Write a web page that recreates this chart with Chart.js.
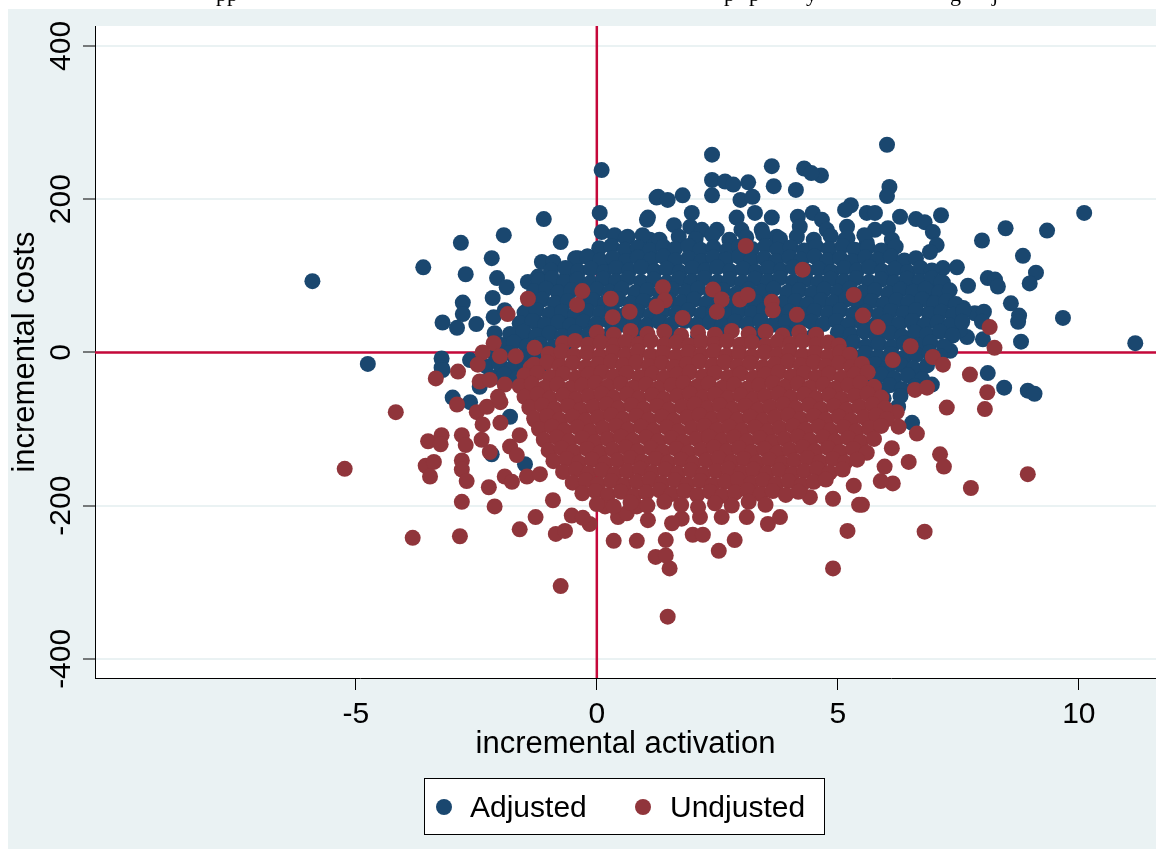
<!DOCTYPE html>
<html>
<head>
<meta charset="utf-8">
<title>incremental costs vs incremental activation</title>
<script src="https://cdn.jsdelivr.net/npm/chart.js@4.4.1/dist/chart.umd.min.js"></script>
<style>
html, body { margin: 0; padding: 0; background: #fff; }
canvas { display: block; }
</style>
</head>
<body>
<canvas id="scatterChart" width="1156" height="849"></canvas>
<script>
// Axis ticks and series names
const xTicks = [-5, 0, 5, 10];
const yTicks = [-400, -200, 0, 200, 400];
const seriesNames = ["Adjusted", "Undjusted"];

// Adjusted: scattered points around the cloud, [activation, costs]
const adjustedOuter = [
    [-5.9,93],[-4.75,-15],[-3.6,111],[-3.2,39],[-3.22,-8],[-3.22,-20],[-2.82,143],[-1.93,153],[-1.1,174],[-0.75,144],
    [-2.72,102],[-2.18,123],[-2.07,97],[-1.87,85],[-2.16,71],[-2.78,65],[-2.78,50],[-2.9,32],[-2.5,37],[-2.14,46],
    [-2.12,25],[-1.58,27],[-2.63,-10],[-1.43,92],[-1.14,118],[-0.9,118],[-1.22,99],[-0.44,123],[-0.62,99],[-0.87,86],
    [-1.33,55],[-1.24,38],[-1.12,25],[-1.54,14],[-0.7,73],[-0.73,46],[-1.91,55],[-0.39,123],[-0.19,125],[0.27,114],
    [0.48,117],[0.06,182],[0.1,157],[0.37,153],[0.64,151],[1.06,176],[1.24,202],[0.85,130],[1.06,147],[0.1,238],
    [2.39,258],[2.39,225],[2.66,223],[2.83,219],[3.14,222],[2.39,205],[2.98,199],[3.23,203],[3.63,243],[3.67,217],
    [4.13,212],[4.3,240],[4.65,231],[4.45,234],[5.27,192],[5.15,186],[5.6,182],[1.27,203],[1.78,205],[1.47,199],
    [1.6,166],[1.97,182],[1.94,164],[2.18,160],[2.49,160],[2.9,176],[3.0,160],[3.28,182],[3.42,160],[3.63,176],
    [4.17,177],[4.48,182],[4.67,173],[4.77,160],[5.19,164],[5.15,147],[4.21,164],[3.73,151],[1.04,173],[1.1,147],[0.89,125],
    [6.02,271],[6.07,216],[6.02,204],[5.77,182],[6.29,177],[6.62,174],[6.8,170],[7.14,179],[6.97,157],[7.05,140],
    [6.91,131],[5.77,160],[6.04,162],[6.12,147],[6.04,130],[5.6,143],[8.48,162],[9.34,159],[10.11,182],[7.99,146],
    [8.84,126],[9.11,104],[8.98,90],[7.18,110],[7.47,111],[7.7,87],[8.11,97],[8.26,95],[8.32,86],[8.59,64],
    [8.76,48],[8.74,40],[9.67,45],[8.8,14],[11.17,12],[7.6,58],[7.84,51],[8.03,53],[7.99,40],[8.01,17],
    [7.68,20],[7.33,2],[6.08,101],[6.45,102],[6.6,88],[7.18,91],[7.26,75],[6.97,78],[6.89,51],[6.56,38],
    [7.39,40],[7.53,29],[8.11,-27],[8.45,-46],[8.94,-50],[9.08,-54],[6.54,-92],[6.95,-42],[6.7,-25],[6.25,-71],
    [-2.99,-59],[-2.63,-65],[-1.8,-84],[-1.49,-146],[-2.43,-45],[-2.05,-32],[-1.49,-40],[-3.2,-23],[-2.18,-133]
];

// Adjusted: dense cloud, read row by row
const adjustedCore = [
    [0.6,149],[0.95,153],[1.3,147],[1.7,151],[2.05,148],[2.4,153],[2.75,147],[3.1,150],[3.45,154],[3.8,148],[4.15,151],[4.5,147],[4.85,152],[5.2,149],[5.55,153],
    [0.05,136],[0.3,139],[0.58,134],[0.85,137],[1.1,133],[1.38,138],[1.62,135],[1.9,139],[2.15,134],[2.42,137],[2.7,133],[2.95,138],[3.22,135],[3.5,139],[3.75,134],[4.02,137],[4.3,133],[4.55,138],[4.82,135],[5.1,139],[5.35,134],[5.62,137],[5.9,133],[6.2,138],
    [-0.45,122],[-0.2,125],[0.07,120],[0.33,123],[0.6,119],[0.85,124],[1.12,121],[1.38,125],[1.63,120],[1.9,123],[2.17,119],[2.42,124],[2.68,121],[2.95,125],[3.2,120],[3.47,123],[3.72,119],[4.0,124],[4.25,121],[4.52,125],[4.78,120],[5.05,123],[5.3,119],[5.57,124],[5.83,121],[6.1,125],[6.38,120],[6.62,123],
    [-0.95,107],[-0.65,110],[-0.38,106],[-0.12,109],[0.15,105],[0.4,110],[0.67,107],[0.92,111],[1.2,106],[1.45,109],[1.72,105],[1.98,110],[2.25,107],[2.5,111],[2.77,106],[3.03,109],[3.3,105],[3.55,110],[3.82,107],[4.08,111],[4.35,106],[4.6,109],[4.87,105],[5.13,110],[5.4,107],[5.65,111],[5.92,106],[6.18,109],[6.45,105],[6.72,110],[6.95,107],
    [-1.2,94],[-0.93,97],[-0.67,92],[-0.4,95],[-0.13,91],[0.13,96],[0.4,93],[0.65,97],[0.92,92],[1.18,95],[1.45,91],[1.7,96],[1.97,93],[2.23,97],[2.5,92],[2.75,95],[3.02,91],[3.28,96],[3.55,93],[3.8,97],[4.07,92],[4.33,95],[4.6,91],[4.85,96],[5.12,93],[5.38,97],[5.65,92],[5.9,95],[6.17,91],[6.43,96],[6.7,93],[6.95,97],[7.15,92],
    [-1.3,80],[-1.05,83],[-0.8,78],[-0.53,81],[-0.27,77],[0.0,82],[0.27,79],[0.52,83],[0.8,78],[1.05,81],[1.32,77],[1.57,82],[1.85,79],[2.1,83],[2.37,78],[2.62,81],[2.9,77],[3.15,82],[3.42,79],[3.67,83],[3.95,78],[4.2,81],[4.47,77],[4.72,82],[5.0,79],[5.25,83],[5.52,78],[5.77,81],[6.05,77],[6.3,82],[6.57,79],[6.82,83],[7.1,78],[7.32,81],
    [-1.4,66],[-1.13,69],[-0.87,64],[-0.6,67],[-0.35,63],[-0.08,68],[0.18,65],[0.45,69],[0.7,64],[0.97,67],[1.22,63],[1.5,68],[1.75,65],[2.02,69],[2.27,64],[2.55,67],[2.8,63],[3.07,68],[3.32,65],[3.6,69],[3.85,64],[4.12,67],[4.37,63],[4.65,68],[4.9,65],[5.17,69],[5.42,64],[5.7,67],[5.95,63],[6.22,68],[6.47,65],[6.75,69],[7.0,64],[7.25,67],[7.45,63],
    [-1.5,52],[-1.25,55],[-0.98,50],[-0.72,53],[-0.45,49],[-0.2,54],[0.07,51],[0.32,55],[0.6,50],[0.85,53],[1.12,49],[1.37,54],[1.65,51],[1.9,55],[2.17,50],[2.42,53],[2.7,49],[2.95,54],[3.22,51],[3.47,55],[3.75,50],[4.0,53],[4.27,49],[4.52,54],[4.8,51],[5.05,55],[5.32,50],[5.57,53],[5.85,49],[6.1,54],[6.37,51],[6.62,55],[6.9,50],[7.15,53],[7.4,49],[7.6,54],
    [-1.6,38],[-1.33,41],[-1.07,36],[-0.8,39],[-0.55,35],[-0.28,40],[-0.02,37],[0.25,41],[0.5,36],[0.77,39],[1.02,35],[1.3,40],[1.55,37],[1.82,41],[2.07,36],[2.35,39],[2.6,35],[2.87,40],[3.12,37],[3.4,41],[3.65,36],[3.92,39],[4.17,35],[4.45,40],[4.7,37],[4.97,41],[5.22,36],[5.5,39],[5.75,35],[6.02,40],[6.27,37],[6.55,41],[6.8,36],[7.07,39],[7.32,35],[7.58,40],
    [-1.8,24],[-1.52,27],[-1.25,22],[-0.98,25],[-0.72,21],[-0.45,26],[-0.18,23],[0.3,26],[0.9,22],[1.5,25],[2.1,21],[2.7,26],[3.3,23],[3.9,25],[4.5,22],[5.0,26],[5.27,23],[5.55,27],[5.8,22],[6.08,25],[6.33,21],[6.6,26],[6.85,23],[7.12,27],[7.38,22],
    [-2.0,10],[-1.72,13],[-1.45,8],[-1.18,11],[-0.9,7],[-0.62,12],[5.05,10],[5.32,13],[5.58,8],[5.85,11],[6.12,7],[6.38,12],[6.65,9],[6.92,13],[7.2,8],
    [-2.1,-4],[-1.82,-1],[-1.55,-6],[-1.27,-2],[-0.98,-7],[5.3,-4],[5.57,-1],[5.83,-6],[6.1,-2],[6.37,-7],[6.63,-3],[6.9,0],[7.12,-5],
    [-2.3,-18],[-2.02,-15],[-1.75,-20],[-1.48,-16],[-1.2,-21],[5.5,-18],[5.77,-15],[6.03,-20],[6.3,-16],[6.57,-21],[6.85,-17],
    [-2.2,-32],[-1.92,-29],[-1.65,-34],[5.62,-32],[5.9,-29],[6.17,-34],[6.45,-30],[6.75,-35],
    [5.8,-46],[6.07,-43],[6.33,-48],[6.6,-44],[5.95,-60],[6.3,-57]
];

// Undjusted: scattered points around the cloud
const undjustedOuter = [
    [-4.17,-78],[-5.23,-152],[-3.82,-242],[-2.84,-240],[-2.8,-195],[-2.12,-201],[-1.6,-231],[-1.27,-215],[-0.85,-237],[-0.66,-233],
    [-0.75,-305],[-0.91,-193],[-0.52,-213],[-3.5,-116],[-3.22,-108],[-3.24,-120],[-3.55,-148],[-3.38,-143],[-3.46,-162],[-2.8,-108],
    [-2.72,-121],[-2.8,-141],[-2.8,-153],[-2.7,-168],[-3.34,-34],[-2.88,-25],[-2.9,-68],[-2.49,-78],[-2.37,-94],[-2.28,-71],
    [-2.0,-65],[-2.0,-92],[-2.39,-114],[-2.22,-130],[-1.8,-123],[-1.6,-108],[-1.66,-134],[-2.24,-176],[-1.91,-162],[-1.76,-169],
    [-1.45,-162],[-1.18,-159],[-2.43,-38],[-2.22,-36],[-1.91,-42],[-2.05,-58],[-1.33,-55],[-1.12,-49],[-1.29,-88],[-0.97,-92],
    [-1.43,70],[-1.85,50],[-1.29,6],[-2.14,12],[-2.37,0],[-2.01,-5],[-1.68,-5],[-2.47,-16],[-1.37,-20],[-0.81,-6],
    [-0.41,62],[-0.3,80],[3.09,139],[4.27,108],[5.33,75],[5.52,48],[0.29,70],[1.37,85],[2.41,82],[1.41,68],
    [2.59,69],[1.24,60],[2.97,69],[3.13,75],[3.63,66],[3.65,55],[0.68,53],[0.33,46],[2.49,53],[1.78,45],[4.15,49],
    [5.83,33],[6.51,8],[6.97,-6],[7.18,-16],[6.14,-10],[7.74,-29],[8.15,33],[8.25,6],[8.1,-52],[8.05,-74],
    [7.26,-72],[6.64,-106],[7.12,-133],[7.2,-149],[6.47,-143],[8.94,-159],[7.76,-177],[6.8,-234],[6.14,-171],[5.89,-168],
    [5.5,-199],[6.6,-49],[6.85,-46],[6.22,-78],[6.26,-97],[6.12,-125],[5.97,-149],
    [1.47,-345],[4.9,-282],[1.51,-282],[1.22,-267],[1.43,-265],[1.43,-245],[0.83,-246],[2.53,-259],[2.86,-245],[1.99,-238],
    [2.2,-238],[5.2,-233],[5.44,-199],[4.9,-191],[4.42,-189],[5.33,-174],[3.55,-224],[3.8,-215],[3.11,-215],[2.59,-215],
    [2.14,-215],[1.76,-217],[1.56,-223],[1.06,-219],[0.44,-215],[0.62,-210],[-0.15,-224],[-0.29,-216],[0.17,-201],[0.83,-201],[0.35,-246]
];

// Undjusted: dense cloud, read row by row
const undjustedCore = [
    [0.0,26],[0.35,23],[0.7,28],[1.05,24],[1.4,27],[1.75,22],[2.1,26],[2.45,23],[2.8,28],[3.15,24],[3.5,27],[3.85,22],[4.2,26],[4.55,23],
    [-0.7,12],[-0.45,15],[-0.18,10],[0.08,13],[0.35,9],[0.6,14],[0.87,11],[1.12,15],[1.4,10],[1.65,13],[1.92,9],[2.17,14],[2.45,11],[2.7,15],[2.97,10],[3.22,13],[3.5,9],[3.75,14],[4.02,11],[4.27,15],[4.55,10],[4.8,13],[5.02,9],
    [-1.0,-2],[-0.73,1],[-0.47,-4],[-0.2,-1],[0.07,-5],[0.33,0],[0.6,-3],[0.85,1],[1.12,-4],[1.38,-1],[1.65,-5],[1.9,0],[2.17,-3],[2.43,1],[2.7,-4],[2.95,-1],[3.22,-5],[3.48,0],[3.75,-3],[4.0,1],[4.27,-4],[4.53,-1],[4.8,-5],[5.05,0],[5.25,-3],
    [-1.3,-16],[-1.03,-13],[-0.77,-18],[-0.5,-14],[-0.23,-19],[0.03,-15],[0.3,-12],[0.55,-17],[0.82,-13],[1.08,-18],[1.35,-14],[1.6,-19],[1.87,-15],[2.13,-12],[2.4,-17],[2.65,-13],[2.92,-18],[3.18,-14],[3.45,-19],[3.7,-15],[3.97,-12],[4.23,-17],[4.5,-13],[4.75,-18],[5.02,-14],[5.28,-19],[5.5,-15],
    [-1.5,-30],[-1.23,-27],[-0.97,-32],[-0.7,-28],[-0.43,-33],[-0.17,-29],[0.1,-26],[0.35,-31],[0.62,-27],[0.88,-32],[1.15,-28],[1.4,-33],[1.67,-29],[1.93,-26],[2.2,-31],[2.45,-27],[2.72,-32],[2.98,-28],[3.25,-33],[3.5,-29],[3.77,-26],[4.03,-31],[4.3,-27],[4.55,-32],[4.82,-28],[5.08,-33],[5.35,-29],[5.62,-26],
    [-1.6,-44],[-1.35,-41],[-1.08,-46],[-0.82,-42],[-0.55,-47],[-0.3,-43],[-0.03,-40],[0.22,-45],[0.5,-41],[0.75,-46],[1.02,-42],[1.27,-47],[1.55,-43],[1.8,-40],[2.07,-45],[2.32,-41],[2.6,-46],[2.85,-42],[3.12,-47],[3.37,-43],[3.65,-40],[3.9,-45],[4.17,-41],[4.42,-46],[4.7,-42],[4.95,-47],[5.22,-43],[5.47,-40],[5.75,-45],
    [-1.5,-58],[-1.23,-55],[-0.97,-60],[-0.7,-56],[-0.43,-61],[-0.17,-57],[0.1,-54],[0.35,-59],[0.62,-55],[0.88,-60],[1.15,-56],[1.4,-61],[1.67,-57],[1.93,-54],[2.2,-59],[2.45,-55],[2.72,-60],[2.98,-56],[3.25,-61],[3.5,-57],[3.77,-54],[4.03,-59],[4.3,-55],[4.55,-60],[4.82,-56],[5.08,-61],[5.35,-57],[5.62,-54],[5.9,-59],
    [-1.4,-72],[-1.13,-69],[-0.87,-74],[-0.6,-70],[-0.33,-75],[-0.07,-71],[0.2,-68],[0.45,-73],[0.72,-69],[0.98,-74],[1.25,-70],[1.5,-75],[1.77,-71],[2.03,-68],[2.3,-73],[2.55,-69],[2.82,-74],[3.08,-70],[3.35,-75],[3.6,-71],[3.87,-68],[4.13,-73],[4.4,-69],[4.65,-74],[4.92,-70],[5.18,-75],[5.45,-71],[5.72,-68],[5.98,-73],
    [-1.3,-86],[-1.03,-83],[-0.77,-88],[-0.5,-84],[-0.23,-89],[0.03,-85],[0.3,-82],[0.55,-87],[0.82,-83],[1.08,-88],[1.35,-84],[1.6,-89],[1.87,-85],[2.13,-82],[2.4,-87],[2.65,-83],[2.92,-88],[3.18,-84],[3.45,-89],[3.7,-85],[3.97,-82],[4.23,-87],[4.5,-83],[4.75,-88],[5.02,-84],[5.28,-89],[5.55,-85],[5.8,-82],[6.02,-87],
    [-1.2,-100],[-0.93,-97],[-0.67,-102],[-0.4,-98],[-0.13,-103],[0.13,-99],[0.4,-96],[0.65,-101],[0.92,-97],[1.18,-102],[1.45,-98],[1.7,-103],[1.97,-99],[2.23,-96],[2.5,-101],[2.75,-97],[3.02,-102],[3.28,-98],[3.55,-103],[3.8,-99],[4.07,-96],[4.33,-101],[4.6,-97],[4.85,-102],[5.12,-98],[5.38,-103],[5.65,-99],[5.9,-96],
    [-1.1,-114],[-0.83,-111],[-0.57,-116],[-0.3,-112],[-0.03,-117],[0.23,-113],[0.5,-110],[0.75,-115],[1.02,-111],[1.28,-116],[1.55,-112],[1.8,-117],[2.07,-113],[2.33,-110],[2.6,-115],[2.85,-111],[3.12,-116],[3.38,-112],[3.65,-117],[3.9,-113],[4.17,-110],[4.43,-115],[4.7,-111],[4.95,-116],[5.22,-112],[5.48,-117],[5.75,-113],
    [-1.0,-128],[-0.73,-125],[-0.47,-130],[-0.2,-126],[0.07,-131],[0.33,-127],[0.6,-124],[0.85,-129],[1.12,-125],[1.38,-130],[1.65,-126],[1.9,-131],[2.17,-127],[2.43,-124],[2.7,-129],[2.95,-125],[3.22,-130],[3.48,-126],[3.75,-131],[4.0,-127],[4.27,-124],[4.53,-129],[4.8,-125],[5.05,-130],[5.32,-126],[5.6,-131],
    [-0.9,-142],[-0.63,-139],[-0.37,-144],[-0.1,-140],[0.17,-145],[0.43,-141],[0.7,-138],[0.95,-143],[1.22,-139],[1.48,-144],[1.75,-140],[2.0,-145],[2.27,-141],[2.53,-138],[2.8,-143],[3.05,-139],[3.32,-144],[3.58,-140],[3.85,-145],[4.1,-141],[4.37,-138],[4.63,-143],[4.9,-139],[5.15,-144],[5.4,-140],
    [-0.7,-156],[-0.43,-153],[-0.17,-158],[0.1,-154],[0.37,-159],[0.63,-155],[0.9,-152],[1.15,-157],[1.42,-153],[1.68,-158],[1.95,-154],[2.2,-159],[2.47,-155],[2.73,-152],[3.0,-157],[3.25,-153],[3.52,-158],[3.78,-154],[4.05,-159],[4.3,-155],[4.57,-152],[4.83,-157],[5.1,-153],
    [-0.5,-170],[-0.23,-167],[0.03,-172],[0.3,-168],[0.57,-173],[0.83,-169],[1.1,-166],[1.35,-171],[1.62,-167],[1.88,-172],[2.15,-168],[2.4,-173],[2.67,-169],[2.93,-166],[3.2,-171],[3.45,-167],[3.72,-172],[3.98,-168],[4.25,-173],[4.5,-169],[4.75,-166],
    [-0.3,-184],[-0.03,-181],[0.23,-186],[0.5,-182],[0.77,-187],[1.03,-183],[1.3,-180],[1.55,-185],[1.82,-181],[2.08,-186],[2.35,-182],[2.6,-187],[2.87,-183],[3.13,-180],[3.4,-185],[3.65,-181],[3.92,-186],[4.18,-182],
    [0.0,-198],[0.35,-201],[0.7,-196],[1.05,-200],[1.4,-195],[1.75,-199],[2.1,-202],[2.45,-197],[2.8,-200],[3.15,-195],[3.5,-199]
];

// bits of the caption above the figure, cut off by the page edge
const captionBits = [["pp", 216], ["p", 724], ["p", 749], ["y", 806], ["g", 950], ["j", 992]];

const BG = "#EAF2F3";
const BLUE = "#1A476F";
const RED = "#90353B";
const LINE = "#C5083A";
const FONT = '"Liberation Sans", Arial, sans-serif';

Chart.defaults.font.family = FONT;
Chart.defaults.color = "#000";

const toPoints = (arr) => arr.map(([x, y]) => ({ x, y }));

const pagePlugin = {
    id: "page",
    beforeDraw(chart) {
        const { ctx, chartArea: a } = chart;
        ctx.save();
        ctx.fillStyle = "#fff";
        ctx.fillRect(0, 0, chart.width, chart.height);
        ctx.fillStyle = "#000";
        ctx.font = '22px "Liberation Serif", "Times New Roman", serif';
        ctx.textBaseline = "alphabetic";
        captionBits.forEach(([t, x]) => ctx.fillText(t, x, 1));
        ctx.fillStyle = BG;
        ctx.fillRect(8, 9, chart.width - 8, chart.height - 9);
        ctx.fillStyle = "#fff";
        ctx.fillRect(a.left, a.top, a.right - a.left, a.bottom - a.top);
        ctx.restore();
    },
    beforeDatasetsDraw(chart) {
        // reference lines at x = 0 and y = 0
        const { ctx, chartArea: a, scales: { x, y } } = chart;
        const x0 = x.getPixelForValue(0);
        const y0 = y.getPixelForValue(0);
        ctx.save();
        ctx.strokeStyle = LINE;
        ctx.lineWidth = 2.5;
        ctx.beginPath();
        ctx.moveTo(x0, a.top);
        ctx.lineTo(x0, a.bottom);
        ctx.moveTo(a.left, y0);
        ctx.lineTo(a.right, y0);
        ctx.stroke();
        ctx.restore();
    },
    afterDraw(chart) {
        const { ctx, scales: { y } } = chart;
        ctx.save();
        // y tick labels, turned like the axis title
        ctx.fillStyle = "#000";
        ctx.font = "30px " + FONT;
        ctx.textAlign = "center";
        ctx.textBaseline = "alphabetic";
        yTicks.forEach((v) => {
            ctx.save();
            ctx.translate(70, y.getPixelForValue(v));
            ctx.rotate(-Math.PI / 2);
            ctx.fillText(String(v), 0, 0);
            ctx.restore();
        });
        // legend box
        ctx.fillStyle = "#fff";
        ctx.fillRect(424.5, 778.5, 400, 56);
        ctx.strokeStyle = "#000";
        ctx.lineWidth = 1;
        ctx.strokeRect(424.5, 778.5, 400, 56);
        const items = [[BLUE, 444, 470], [RED, 643, 670]];
        items.forEach(([c, dx, tx], i) => {
            ctx.fillStyle = c;
            ctx.beginPath();
            ctx.arc(dx, 807, 8, 0, Math.PI * 2);
            ctx.fill();
            ctx.fillStyle = "#000";
            ctx.textAlign = "left";
            ctx.fillText(seriesNames[i], tx, 817);
        });
        ctx.restore();
    }
};

new Chart(document.getElementById("scatterChart"), {
    type: "scatter",
    data: {
        datasets: [
            {
                label: seriesNames[0],
                data: toPoints(adjustedOuter.concat(adjustedCore)),
                backgroundColor: BLUE,
                borderWidth: 0,
                pointRadius: 8,
                pointHoverRadius: 8,
                order: 2
            },
            {
                label: seriesNames[1],
                data: toPoints(undjustedOuter.concat(undjustedCore)),
                backgroundColor: RED,
                borderWidth: 0,
                pointRadius: 8,
                pointHoverRadius: 8,
                order: 1
            }
        ]
    },
    options: {
        responsive: false,
        animation: false,
        devicePixelRatio: 1,
        layout: { autoPadding: false, padding: { top: 26, left: 0, right: 0, bottom: 81 } },
        plugins: {
            legend: { display: false },
            tooltip: { enabled: false }
        },
        scales: {
            x: {
                type: "linear",
                min: -10.41,
                max: 11.6,
                afterBuildTicks: (s) => { s.ticks = xTicks.map((v) => ({ value: v })); },
                afterFit: (s) => { s.height = 90; s.paddingLeft = 0; s.paddingRight = 0; },
                grid: { drawOnChartArea: false, drawTicks: true, tickLength: 12, tickColor: "#000", tickWidth: 1 },
                border: { display: true, color: "#000", width: 1 },
                ticks: { color: "#000", font: { size: 30 }, padding: 7, maxRotation: 0, minRotation: 0 },
                title: {
                    display: true,
                    text: "incremental activation",
                    color: "#000",
                    font: { size: 31 },
                    padding: { top: 0, bottom: 5 }
                }
            },
            y: {
                type: "linear",
                min: -425,
                max: 426,
                afterBuildTicks: (s) => { s.ticks = yTicks.map((v) => ({ value: v })); },
                afterFit: (s) => { s.width = 95; s.paddingTop = 0; s.paddingBottom = 0; },
                grid: { color: BG, lineWidth: 2, drawTicks: true, tickLength: 12, tickColor: "#000", tickWidth: 1 },
                border: { display: true, color: "#000", width: 1 },
                ticks: { color: "rgba(0,0,0,0)", font: { size: 30 } },
                title: {
                    display: true,
                    text: "incremental costs",
                    color: "#000",
                    font: { size: 31 },
                    padding: { top: 7, bottom: 0 }
                }
            }
        }
    },
    plugins: [pagePlugin]
});
</script>
</body>
</html>
